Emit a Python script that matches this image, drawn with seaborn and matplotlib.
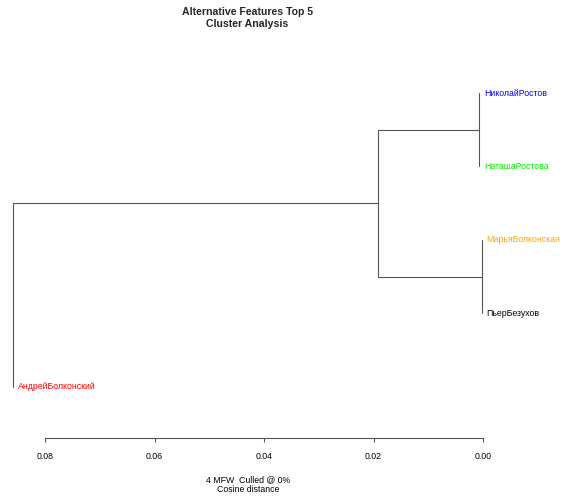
import matplotlib
matplotlib.use("Agg")
import matplotlib.pyplot as plt
import pandas as pd
import seaborn as sns

# Leaves in plotting order (top to bottom) and their label colours
leaf_labels = ["НиколайРостов", "НаташаРостова", "МарьяБолконская", "ПьерБезухов", "АндрейБолконский"]
leaf_colors = ["#0000FF", "#00EE00", "#FFA500", "#000000", "#FF0000"]

# hclust-style merge table: negative = leaf (1-based), positive = earlier merge row (1-based)
merge = [[-1, -2], [-3, -4], [1, 2], [3, -5]]
merge_height = [0.00067, 0.00024, 0.0192, 0.0858]

tick_values = [0.08, 0.06, 0.04, 0.02, 0.00]
tick_labels = ["0.08", "0.06", "0.04", "0.02", "0.00"]

title_text = "Alternative Features Top 5\nCluster Analysis"
xlabel_text = "4 MFW  Culled @ 0%\nCosine distance"

sns.set_theme(style="white")
plt.rcParams["font.family"] = ["Liberation Sans", "DejaVu Sans"]

# Build the dendrogram segments (phylogram style)
node_y = []
rows = []
leaf_marks = []
seg_id = 0
for k, (a, b) in enumerate(merge):
    h = merge_height[k]
    ys = []
    for c in (a, b):
        if c < 0:
            y = -c - 1
            leaf_marks.append((h, y, -c - 1))
        else:
            y = node_y[c - 1]
            ch = merge_height[c - 1]
            rows += [(seg_id, h, y), (seg_id, ch, y)]
            seg_id += 1
        ys.append(y)
    rows += [(seg_id, h, min(ys)), (seg_id, h, max(ys))]
    seg_id += 1
    node_y.append((min(ys) + max(ys)) / 2)

seg = pd.DataFrame(rows, columns=["seg", "x", "y"])

fig = plt.figure(figsize=(5.71, 4.99), dpi=100)
ax = fig.add_axes([0, (499 - 438) / 499, 1, 438 / 499])

sns.lineplot(data=seg, x="x", y="y", units="seg", estimator=None, sort=False,
             color="#555555", linewidth=0.8, ax=ax)

for h, y, i in leaf_marks:
    ax.annotate(leaf_labels[i], (h, y), xytext=(3.6, 0), textcoords="offset points",
                ha="left", va="center", color=leaf_colors[i], fontsize=6.3)

ax.set_xlim(0.08822, -0.01607)
ax.set_ylim(4.700, -1.267)

for side in ["left", "top", "right"]:
    ax.spines[side].set_visible(False)
ax.spines["bottom"].set_bounds(0.0, 0.08)
ax.spines["bottom"].set_color("#555555")
ax.spines["bottom"].set_linewidth(0.8)

ax.set_yticks([])
ax.set_ylabel("")
ax.set_xticks(tick_values)
ax.set_xticklabels(tick_labels)
ax.tick_params(axis="x", direction="out", length=3, width=0.8, color="#555555",
               pad=6.8, labelsize=6.3, labelcolor="black", bottom=True)

ax.set_xlabel(xlabel_text, fontsize=6.3, linespacing=1.1, color="black")
ax.xaxis.set_label_coords(248 / 571, -(484.5 - 438) / 438)
ax.xaxis.label.set_va("center")

fig.text(247.5 / 571, 1 - 17.75 / 499, title_text, ha="center", va="center",
         fontsize=7.6, fontweight="bold", linespacing=1.3)

fig.savefig("out.png", dpi=100, facecolor="white")
